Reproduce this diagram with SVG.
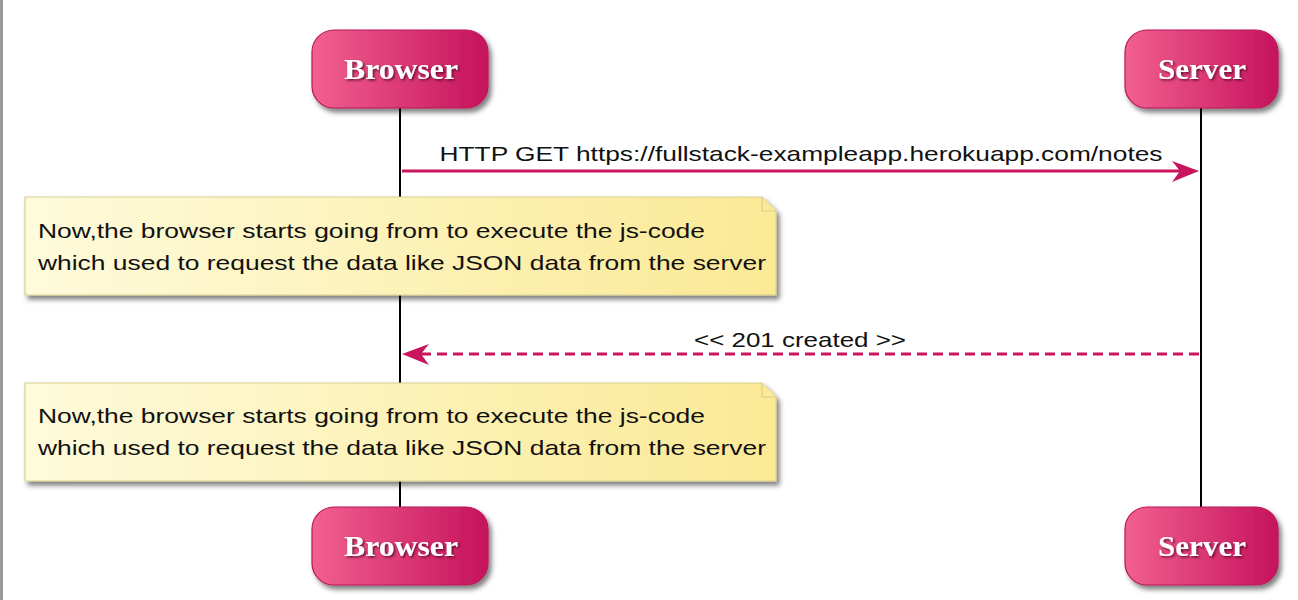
<svg xmlns="http://www.w3.org/2000/svg" width="1298" height="600" viewBox="0 0 1298 600">
<style>
.pbox{fill:url(#pg);stroke:#b8195a;stroke-width:1.2;filter:url(#sh)}
.ptxt{font-family:"Liberation Serif",serif;font-weight:bold;font-size:29px;fill:#ffffff;text-anchor:middle;filter:url(#tsh)}
.life{stroke:#000;stroke-width:2}
.note{fill:url(#ng);stroke:#d9cf8f;stroke-width:1.2;filter:url(#sh)}
.ntxt{font-family:"Liberation Sans",Arial,sans-serif;font-size:19.8px;fill:#111}
.msg{stroke:#c8155e;stroke-width:3;fill:none}
.head{fill:#c8155e}
.mtxt{font-family:"Liberation Sans",Arial,sans-serif;font-size:19.8px;fill:#111;text-anchor:middle}
</style>
<defs>
<linearGradient id="pg" x1="0" y1="0" x2="1" y2="0">
<stop offset="0" stop-color="#f2608f"/>
<stop offset="1" stop-color="#c5135c"/>
</linearGradient>
<linearGradient id="ng" x1="0" y1="0" x2="1" y2="0">
<stop offset="0" stop-color="#fefbdc"/>
<stop offset="1" stop-color="#fbe995"/>
</linearGradient>
<filter id="sh" x="-10%" y="-20%" width="125%" height="150%">
<feDropShadow dx="3" dy="4" stdDeviation="2.5" flood-color="#000" flood-opacity="0.5"/>
</filter>
<filter id="tsh" x="-10%" y="-30%" width="130%" height="160%">
<feDropShadow dx="1.5" dy="1.5" stdDeviation="0.8" flood-color="#4a0020" flood-opacity="0.8"/>
</filter>
</defs>
<rect x="0" y="0" width="1298" height="600" fill="#ffffff"/>
<rect x="0" y="0" width="3" height="600" fill="#9a9a9a"/>

<g id="lifelines">
<line class="life" x1="400" y1="108" x2="400" y2="507"/>
<line class="life" x1="1201" y1="108" x2="1201" y2="507"/>
</g>

<g id="browser-top">
<rect class="pbox" x="312" y="30" width="176" height="78" rx="22" ry="22"/>
<text class="ptxt" x="401" y="79" textLength="114" lengthAdjust="spacingAndGlyphs">Browser</text>
</g>
<g id="server-top">
<rect class="pbox" x="1125" y="30" width="153" height="78" rx="22" ry="22"/>
<text class="ptxt" x="1202" y="79" textLength="88" lengthAdjust="spacingAndGlyphs">Server</text>
</g>
<g id="browser-bottom">
<rect class="pbox" x="312" y="507" width="176" height="78" rx="22" ry="22"/>
<text class="ptxt" x="401" y="556" textLength="114" lengthAdjust="spacingAndGlyphs">Browser</text>
</g>
<g id="server-bottom">
<rect class="pbox" x="1125" y="507" width="153" height="78" rx="22" ry="22"/>
<text class="ptxt" x="1202" y="556" textLength="88" lengthAdjust="spacingAndGlyphs">Server</text>
</g>

<g id="note1">
<path class="note" d="M25,197 H762 L776,211 V295 H25 Z"/>
<path d="M762,197 V211 H776" fill="#fbe995" stroke="#d9cf8f" stroke-width="1.2"/>
<text class="ntxt" x="38" y="238" textLength="667" lengthAdjust="spacingAndGlyphs">Now,the browser starts going from to execute the js-code</text>
<text class="ntxt" x="38" y="270" textLength="728" lengthAdjust="spacingAndGlyphs">which used to request the data like JSON data from the server</text>
</g>
<g id="note2">
<path class="note" d="M25,383 H762 L776,397 V481 H25 Z"/>
<path d="M762,383 V397 H776" fill="#fbe995" stroke="#d9cf8f" stroke-width="1.2"/>
<text class="ntxt" x="38" y="423" textLength="667" lengthAdjust="spacingAndGlyphs">Now,the browser starts going from to execute the js-code</text>
<text class="ntxt" x="38" y="455" textLength="728" lengthAdjust="spacingAndGlyphs">which used to request the data like JSON data from the server</text>
</g>

<g id="connectors">
<line class="msg" x1="402" y1="171" x2="1182" y2="171"/>
<path class="head" d="M1199,171 L1172,161 L1180,171 L1172,182 Z"/>
<text class="mtxt" x="801" y="161" textLength="723" lengthAdjust="spacingAndGlyphs">HTTP GET https://fullstack-exampleapp.herokuapp.com/notes</text>
<line class="msg" x1="1199" y1="354" x2="420" y2="354" stroke-dasharray="10,6"/>
<path class="head" d="M402,354 L429,344 L421,354 L429,365 Z"/>
<text class="mtxt" x="800" y="347" textLength="212" lengthAdjust="spacingAndGlyphs">&lt;&lt; 201 created &gt;&gt;</text>
</g>
</svg>
